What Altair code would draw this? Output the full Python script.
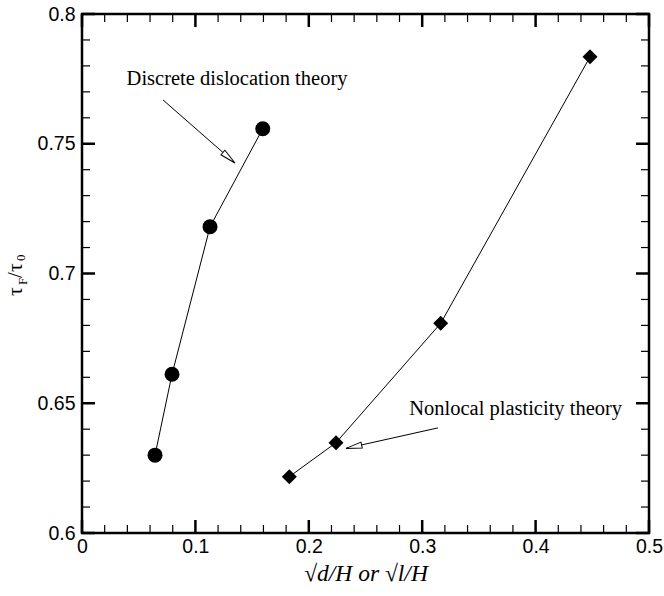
import altair as alt
import pandas as pd

# Discrete dislocation theory (circles)
dd_x = [0.0644, 0.0794, 0.1129, 0.1594]
dd_y = [0.6300, 0.6612, 0.7180, 0.7558]
# Nonlocal plasticity theory (diamonds)
nl_x = [0.1828, 0.2240, 0.3163, 0.4480]
nl_y = [0.6217, 0.6348, 0.6808, 0.7835]

# tick values
x_major = [0.0, 0.1, 0.2, 0.3, 0.4, 0.5]
x_minor = [0.02, 0.04, 0.06, 0.08, 0.12, 0.14, 0.16, 0.18, 0.22, 0.24, 0.26, 0.28,
           0.32, 0.34, 0.36, 0.38, 0.42, 0.44, 0.46, 0.48]
y_major = [0.6, 0.65, 0.7, 0.75, 0.8]
y_minor = [0.61, 0.62, 0.63, 0.64, 0.66, 0.67, 0.68, 0.69, 0.71, 0.72, 0.73, 0.74,
           0.76, 0.77, 0.78, 0.79]

# annotations (data coordinates)
ann_labels = ["Discrete dislocation theory", "Nonlocal plasticity theory"]
ann_text_x = [0.1367, 0.3824]
ann_text_y = [0.7726, 0.6455]
ann_start_x = [0.0714, 0.3139]
ann_start_y = [0.7669, 0.6405]
ann_tip_x = [0.1349, 0.2328]
ann_tip_y = [0.7426, 0.6326]
ann_angle = [131, 258]

W, H = 567, 519
xs = alt.Scale(domain=[0, 0.5], nice=False, zero=False)
ys = alt.Scale(domain=[0.6, 0.8], nice=False, zero=False)

x_axis = alt.Axis(values=x_major, format="~g", title="√d/H or √l/H",
                  titleFont="Liberation Serif", titleFontStyle="italic", titleFontSize=23.5,
                  titleFontWeight="normal", titleY=47, titleBaseline="alphabetic",
                  titleColor="black", labelFont="Liberation Sans", labelFontSize=19.5,
                  labelColor="black", labelPadding=4, ticks=False, domain=False,
                  grid=False, labelFlush=False, labelOverlap=False)
y_axis = alt.Axis(values=y_major, format="~g", title="",
                  labelFont="Liberation Sans", labelFontSize=19.5, labelColor="black",
                  labelPadding=7, ticks=False, domain=False, grid=False,
                  labelFlush=False, labelOverlap=False)

def X(f):
    return alt.X(f, scale=xs, axis=x_axis)

def Y(f):
    return alt.Y(f, scale=ys, axis=y_axis)

dd = pd.DataFrame({"x": dd_x, "y": dd_y})
nl = pd.DataFrame({"x": nl_x, "y": nl_y})

dd_line = alt.Chart(dd).mark_line(color="black", strokeWidth=1).encode(x=X("x:Q"), y=Y("y:Q"))
dd_pts = alt.Chart(dd).mark_point(shape="circle", filled=True, size=225, color="black",
                                  opacity=1).encode(x=X("x:Q"), y=Y("y:Q"))
nl_line = alt.Chart(nl).mark_line(color="black", strokeWidth=1).encode(x=X("x:Q"), y=Y("y:Q"))
nl_pts = alt.Chart(nl).mark_point(shape="diamond", filled=True, size=225, color="black",
                                  opacity=1).encode(x=X("x:Q"), y=Y("y:Q"))

# ticks (inward, on all four sides)
def xticks(vals, length, width):
    df = pd.DataFrame({"x": vals})
    b = alt.Chart(df).mark_rule(color="black", strokeWidth=width).encode(
        x=X("x:Q"), y=alt.value(H), y2=alt.value(H - length))
    t = alt.Chart(df).mark_rule(color="black", strokeWidth=width).encode(
        x=X("x:Q"), y=alt.value(0), y2=alt.value(length))
    return [b, t]

def yticks(vals, length, width):
    df = pd.DataFrame({"y": vals})
    l = alt.Chart(df).mark_rule(color="black", strokeWidth=width).encode(
        y=Y("y:Q"), x=alt.value(0), x2=alt.value(length))
    r = alt.Chart(df).mark_rule(color="black", strokeWidth=width).encode(
        y=Y("y:Q"), x=alt.value(W), x2=alt.value(W - length))
    return [l, r]

tick_layers = (xticks(x_major, 13, 2.5) + xticks(x_minor, 8, 1.2)
               + yticks(y_major, 13, 2.5) + yticks(y_minor, 8, 1.2))

ann = pd.DataFrame({"label": ann_labels, "tx": ann_text_x, "ty": ann_text_y,
                    "x": ann_start_x, "y": ann_start_y, "px": ann_tip_x, "py": ann_tip_y,
                    "a": ann_angle})
ann_line = alt.Chart(ann).mark_rule(color="black", strokeWidth=1).encode(
    x=X("x:Q"), y=Y("y:Q"), x2="px:Q", y2="py:Q")
ann_head = alt.Chart(ann).mark_point(shape="M0,0 L0.19,1 L-0.19,1 Z", filled=True, fill="white",
                                     stroke="black", strokeWidth=1, size=1024, opacity=1).encode(
    x=X("px:Q"), y=Y("py:Q"), angle=alt.Angle("a:Q", scale=None))
ann_text = alt.Chart(ann).mark_text(font="Liberation Serif", fontSize=20.5, align="center",
                                    baseline="alphabetic", color="black").encode(
    x=X("tx:Q"), y=Y("ty:Q"), text="label:N")

# y-axis title tau_F / tau_0 built from pieces
one = alt.Data(values=[{"k": 1}])
def piece(txt, size, xv, yv):
    return alt.Chart(one).mark_text(text=txt, font="Liberation Serif", fontSize=size, angle=270,
                                    align="left", baseline="alphabetic", color="black").encode(
        x=alt.value(xv), y=alt.value(yv))

title_layers = [piece("τ", 22, -60, 282), piece("F", 13, -55, 271), piece("/", 21, -60, 264),
                piece("τ", 22, -60, 258), piece("0", 13, -57, 247)]

chart = alt.layer(dd_line, dd_pts, nl_line, nl_pts, *tick_layers, ann_line, ann_head, ann_text,
                  *title_layers).properties(
    width=W, height=H,
    padding={"left": 82, "top": 14, "right": 15, "bottom": 63},
    autosize=alt.AutoSizeParams(type="none"),
    background="white",
).configure_view(stroke="black", strokeWidth=2.5)

chart.save("out.html", embed_options={"renderer": "svg", "actions": False})
